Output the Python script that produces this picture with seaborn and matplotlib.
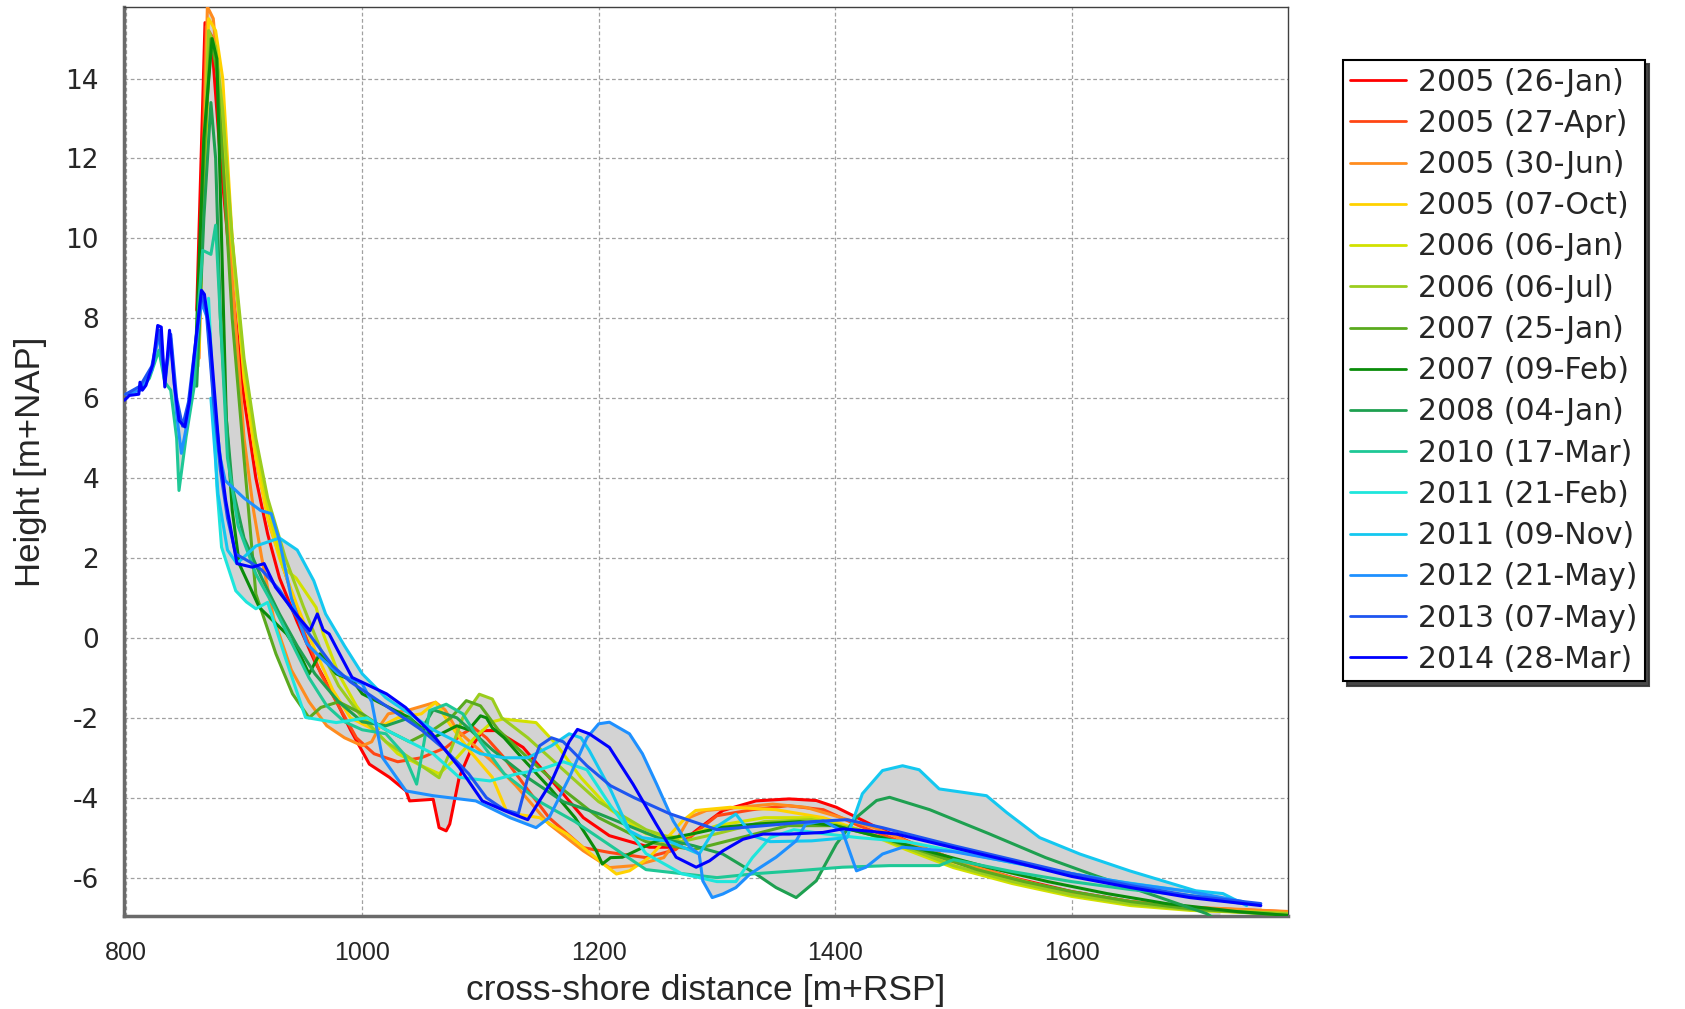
import numpy as np
import pandas as pd
import matplotlib
matplotlib.use("Agg")
import matplotlib.pyplot as plt
import seaborn as sns
from matplotlib.ticker import MultipleLocator

# ---------------- data (cross-shore distance, height) ----------------
labels = ["2005 (26-Jan)", "2005 (27-Apr)", "2005 (30-Jun)", "2005 (07-Oct)",
          "2006 (06-Jan)", "2006 (06-Jul)", "2007 (25-Jan)", "2007 (09-Feb)",
          "2008 (04-Jan)", "2010 (17-Mar)", "2011 (21-Feb)", "2011 (09-Nov)",
          "2012 (21-May)", "2013 (07-May)", "2014 (28-Mar)"]

colors = ["#ff0000", "#ff4614", "#ff8c1e", "#ffd200", "#d2e100", "#9bcd1e",
          "#5aaa1e", "#0a8c0a", "#1ea050", "#1ec896", "#1ee6dc", "#14c8f0",
          "#1e90ff", "#1e55f0", "#0000ff"]

p_2005_0126 = [(860, 8.2), (867, 15.4), (873, 14.8), (880, 12.0), (890, 8.8), (900, 6.0), (910, 4.0),
               (920, 2.6), (930, 1.5), (945, 0.4), (960, -0.6), (975, -1.4), (990, -2.3), (1006, -3.16),
               (1023, -3.49), (1037, -3.83), (1040, -4.08), (1060, -4.04), (1065, -4.75), (1071, -4.83),
               (1074, -4.66), (1082, -3.49), (1094, -2.66), (1102, -2.32), (1113, -2.32), (1136, -2.74),
               (1158, -3.49), (1187, -4.5), (1209, -4.95), (1243, -5.24), (1265, -5.24), (1282, -4.83),
               (1305, -4.32), (1333, -4.08), (1361, -4.03), (1384, -4.07), (1401, -4.24), (1418, -4.49),
               (1435, -4.74), (1470, -5.2), (1510, -5.65), (1550, -6.0), (1600, -6.35), (1650, -6.6),
               (1700, -6.75), (1785, -6.86)]

p_2005_0427 = [(861, 7.5), (868, 15.3), (874, 15.0), (882, 12.8), (892, 9.2), (902, 6.2), (912, 4.2),
               (922, 2.8), (935, 1.6), (950, 0.2), (965, -0.9), (980, -1.7), (995, -2.5), (1010, -2.9),
               (1030, -3.1), (1050, -3.0), (1071, -2.74), (1085, -2.4), (1094, -2.24), (1105, -2.5),
               (1120, -3.0), (1140, -3.8), (1158, -4.5), (1187, -5.25), (1209, -5.37), (1240, -5.5),
               (1265, -5.3), (1285, -4.8), (1300, -4.45), (1330, -4.3), (1360, -4.2), (1390, -4.3),
               (1420, -4.7), (1460, -5.15), (1500, -5.6), (1550, -6.05), (1600, -6.4), (1650, -6.62),
               (1700, -6.76), (1785, -6.88)]

p_2005_0630 = [(862, 7.0), (869, 15.8), (874, 15.5), (880, 13.5), (890, 9.0), (900, 5.0), (908, 3.2),
               (915, 2.0), (925, 0.5), (940, -0.8), (955, -1.6), (970, -2.2), (985, -2.5), (1000, -2.7),
               (1008, -2.6), (1015, -2.2), (1022, -1.9), (1040, -1.8), (1062, -1.61), (1070, -1.8),
               (1080, -2.3), (1095, -2.7), (1110, -3.1), (1130, -3.7), (1158, -4.66), (1187, -5.33),
               (1209, -5.75), (1230, -5.7), (1255, -5.5), (1265, -5.1), (1277, -4.49), (1291, -4.32),
               (1319, -4.24), (1347, -4.16), (1375, -4.24), (1404, -4.49), (1432, -4.74), (1470, -5.2),
               (1510, -5.65), (1555, -6.05), (1600, -6.38), (1650, -6.6), (1700, -6.74), (1785, -6.85)]

p_2005_1007 = [(862, 7.2), (870, 15.5), (876, 15.2), (882, 14.0), (890, 10.0), (900, 6.5), (910, 4.5),
               (920, 3.0), (930, 2.0), (945, 0.8), (960, -0.3), (975, -1.3), (990, -2.0), (1010, -2.3),
               (1030, -2.0), (1050, -1.9), (1062, -1.61), (1074, -2.16), (1091, -2.83), (1110, -3.49),
               (1122, -4.33), (1130, -4.41), (1150, -4.5), (1173, -4.91), (1204, -5.66), (1215, -5.91),
               (1226, -5.83), (1243, -5.49), (1271, -4.58), (1282, -4.32), (1311, -4.24), (1350, -4.3),
               (1390, -4.5), (1430, -4.9), (1470, -5.35), (1510, -5.8), (1555, -6.15), (1600, -6.45),
               (1650, -6.68), (1700, -6.8), (1785, -6.9)]

p_2006_0106 = [(861, 7.0), (871, 15.0), (876, 14.6), (882, 13.0), (890, 9.8), (900, 6.8), (910, 4.8),
               (920, 3.3), (933, 1.76), (944, 1.5), (961, 0.76), (967, 0.1), (980, -0.9), (995, -1.7),
               (1010, -2.3), (1030, -2.9), (1050, -3.2), (1065, -3.4), (1080, -3.0), (1095, -2.5),
               (1110, -2.1), (1119, -2.03), (1147, -2.12), (1164, -2.66), (1185, -3.5), (1210, -4.3),
               (1240, -4.9), (1270, -5.0), (1300, -4.7), (1340, -4.5), (1380, -4.5), (1420, -4.8),
               (1460, -5.3), (1500, -5.75), (1550, -6.15), (1600, -6.47), (1650, -6.7), (1700, -6.82),
               (1785, -6.92)]

p_2006_0706 = [(861, 6.8), (870, 15.2), (876, 14.8), (882, 13.2), (890, 10.0), (900, 7.0), (910, 5.0),
               (920, 3.5), (935, 2.0), (950, 0.8), (965, -0.3), (980, -1.2), (1000, -2.0), (1020, -2.6),
               (1040, -3.0), (1055, -3.3), (1065, -3.5), (1075, -2.8), (1085, -2.0), (1099, -1.41),
               (1110, -1.53), (1118, -2.0), (1140, -2.5), (1170, -3.3), (1200, -4.1), (1240, -4.8),
               (1270, -5.1), (1300, -4.9), (1340, -4.6), (1380, -4.55), (1420, -4.8), (1460, -5.25),
               (1500, -5.7), (1550, -6.1), (1600, -6.43), (1650, -6.66), (1700, -6.8), (1785, -6.9)]

p_2007_0125 = [(859, 6.4), (866, 12.0), (872, 15.0), (877, 14.2), (882, 12.0), (890, 8.0), (900, 4.5),
               (910, 1.1), (927, -0.4), (941, -1.4), (955, -2.0), (965, -1.74), (980, -1.6), (1000, -1.9),
               (1020, -2.3), (1040, -2.6), (1060, -2.3), (1075, -2.0), (1088, -1.57), (1100, -1.7),
               (1115, -2.3), (1140, -3.0), (1170, -3.8), (1200, -4.5), (1240, -5.1), (1280, -5.3),
               (1320, -5.0), (1360, -4.7), (1400, -4.7), (1440, -5.0), (1480, -5.4), (1520, -5.8),
               (1560, -6.1), (1600, -6.35), (1650, -6.6), (1700, -6.78), (1760, -6.9), (1785, -6.95)]

p_2007_0209 = [(858, 6.3), (866, 12.5), (873, 15.0), (877, 14.5), (881, 10.0), (885, 5.5), (890, 3.2),
               (896, 1.85), (913, 0.76), (936, 0.1), (947, -0.4), (955, -0.9), (964, -0.4), (978, -0.9),
               (992, -1.07), (1000, -1.4), (1020, -1.7), (1040, -2.0), (1060, -2.5), (1080, -2.2),
               (1090, -2.3), (1100, -1.95), (1105, -2.0), (1110, -2.25), (1120, -2.5), (1135, -3.0),
               (1160, -3.8), (1180, -4.5), (1198, -5.33), (1203, -5.66), (1210, -5.5), (1220, -5.49),
               (1249, -5.08), (1280, -4.9), (1305, -4.74), (1333, -4.66), (1370, -4.6), (1400, -4.7),
               (1440, -5.0), (1480, -5.35), (1530, -5.75), (1580, -6.1), (1630, -6.4), (1680, -6.65),
               (1740, -6.85), (1785, -6.95)]

p_2008_0104 = [(860, 6.3), (866, 10.5), (872, 13.4), (876, 12.0), (880, 8.0), (885, 5.5), (890, 3.8),
               (900, 2.5), (915, 1.5), (930, 0.6), (945, -0.2), (960, -0.9), (980, -1.6), (1000, -2.1),
               (1020, -2.2), (1040, -2.0), (1050, -2.3), (1060, -1.8), (1080, -2.0), (1095, -2.4),
               (1110, -2.8), (1140, -3.5), (1170, -4.1), (1200, -4.4), (1250, -5.0), (1280, -5.2),
               (1305, -5.41), (1333, -5.91), (1350, -6.25), (1367, -6.5), (1384, -6.08), (1401, -5.16),
               (1418, -4.49), (1435, -4.07), (1446, -3.99), (1480, -4.3), (1530, -4.9), (1578, -5.5),
               (1620, -5.95), (1670, -6.45), (1714, -6.9), (1725, -7.1)]

p_2010_0317 = [(812, 6.2), (820, 6.5), (828, 7.2), (833, 6.4), (838, 6.2), (843, 5.0), (845, 3.69),
               (851, 5.03), (858, 6.32), (862, 8.5), (865, 9.7), (872, 9.6), (876, 10.33), (880, 8.0),
               (886, 4.5), (895, 2.8), (910, 1.6), (925, 0.8), (940, -0.1), (955, -1.0), (970, -1.7),
               (985, -2.1), (1000, -2.3), (1020, -2.4), (1035, -2.9), (1046, -3.66), (1057, -1.82),
               (1071, -1.66), (1085, -1.9), (1100, -2.6), (1120, -3.4), (1150, -4.1), (1180, -4.6),
               (1200, -5.0), (1240, -5.8), (1300, -6.0), (1333, -5.9), (1367, -5.83), (1406, -5.74),
               (1446, -5.7), (1488, -5.7), (1500, -5.55), (1550, -5.85), (1600, -6.1), (1650, -6.3),
               (1700, -6.45), (1745, -6.65)]

p_2011_0221 = [(870, 8.5), (874, 6.0), (877, 3.8), (881, 2.27), (893, 1.18), (902, 0.9), (910, 0.73),
               (920, 0.89), (935, -0.5), (952, -1.99), (978, -2.12), (1004, -2.0), (1020, -2.3),
               (1040, -2.6), (1060, -2.9), (1082, -3.49), (1108, -3.58), (1130, -3.41), (1150, -3.3),
               (1170, -3.1), (1190, -3.3), (1210, -4.2), (1240, -5.4), (1270, -5.9), (1300, -6.1),
               (1316, -6.1), (1330, -5.5), (1345, -5.0), (1365, -4.8), (1390, -4.9), (1420, -5.0),
               (1460, -5.1), (1520, -5.45), (1580, -5.8), (1640, -6.1), (1700, -6.35), (1745, -6.62)]

p_2011_1109 = [(872, 6.0), (878, 3.6), (886, 2.2), (894, 1.86), (910, 2.3), (930, 2.5), (945, 2.2),
               (959, 1.43), (969, 0.6), (985, -0.2), (1000, -0.9), (1020, -1.5), (1040, -1.9),
               (1060, -2.3), (1080, -2.6), (1100, -2.9), (1120, -3.0), (1140, -3.0), (1160, -2.7),
               (1175, -2.4), (1185, -2.5), (1192, -2.82), (1210, -3.8), (1226, -4.83), (1237, -5.0),
               (1260, -5.1), (1285, -5.41), (1299, -4.74), (1316, -4.41), (1330, -4.95), (1345, -5.1),
               (1380, -5.08), (1410, -5.0), (1423, -3.9), (1440, -3.32), (1457, -3.2), (1471, -3.3),
               (1488, -3.78), (1528, -3.95), (1545, -4.37), (1573, -5.0), (1607, -5.41), (1649, -5.83),
               (1705, -6.33), (1728, -6.4), (1748, -6.7)]

p_2012_0521 = [(800, 6.1), (812, 6.2), (822, 6.7), (828, 7.6), (833, 6.4), (838, 7.5), (843, 5.6),
               (847, 4.62), (852, 5.4), (858, 7.0), (864, 8.4), (869, 8.0), (875, 5.8), (880, 4.5),
               (884, 3.94), (900, 3.5), (914, 3.19), (923, 3.11), (930, 2.43), (940, 1.0), (953, -0.14),
               (965, -0.5), (980, -0.9), (1000, -1.15), (1008, -1.6), (1017, -2.99), (1037, -3.83),
               (1060, -3.95), (1096, -4.08), (1125, -4.5), (1147, -4.75), (1158, -4.5), (1175, -3.5),
               (1190, -2.5), (1200, -2.15), (1209, -2.11), (1226, -2.4), (1237, -2.9), (1249, -3.66),
               (1263, -4.58), (1277, -5.24), (1285, -5.41), (1288, -6.08), (1296, -6.5), (1305, -6.41),
               (1316, -6.25), (1328, -5.91), (1350, -5.49), (1367, -5.08), (1375, -4.66), (1390, -4.58),
               (1406, -4.83), (1418, -5.83), (1426, -5.74), (1440, -5.41), (1457, -5.24), (1500, -5.35),
               (1550, -5.62), (1600, -5.9), (1650, -6.15), (1700, -6.35), (1745, -6.6)]

p_2013_0507 = [(800, 6.1), (812, 6.3), (822, 6.8), (828, 7.7), (833, 6.5), (838, 7.6), (843, 6.0),
               (848, 5.3), (853, 5.9), (859, 7.4), (864, 8.6), (868, 8.2), (874, 6.0), (880, 4.2),
               (886, 3.0), (893, 2.1), (905, 1.9), (915, 1.7), (930, 1.2), (945, 0.5), (960, -0.1),
               (975, -0.7), (990, -1.1), (1010, -1.5), (1030, -1.9), (1050, -2.3), (1070, -2.8),
               (1090, -3.4), (1105, -4.0), (1120, -4.3), (1132, -4.4), (1140, -3.5), (1150, -2.7),
               (1160, -2.5), (1170, -2.6), (1190, -3.2), (1210, -3.7), (1230, -4.0), (1260, -4.4),
               (1300, -4.8), (1340, -4.7), (1380, -4.6), (1410, -4.55), (1440, -4.75), (1500, -5.2),
               (1550, -5.55), (1600, -5.9), (1650, -6.2), (1700, -6.45), (1760, -6.65)]

p_2014_0328 = [(799, 5.95), (803, 6.07), (811, 6.1), (812, 6.4), (814, 6.2), (817, 6.32), (823, 6.86),
               (827, 7.82), (830, 7.78), (833, 6.28), (837, 7.7), (841, 6.36), (845, 5.44), (850, 5.28),
               (854, 5.95), (859.5, 7.53), (864, 8.7), (866.5, 8.6), (871, 7.62), (879, 4.7),
               (884.5, 3.44), (894, 1.86), (907, 1.77), (917, 1.86), (926.6, 1.27), (946, 0.52),
               (955.8, 0.18), (962, 0.6), (967, 0.2), (972, 0.1), (978, -0.24), (991.4, -0.99),
               (1020.5, -1.4), (1036.6, -1.74), (1059, -2.4), (1082, -3.24), (1101.5, -4.08),
               (1120.8, -4.33), (1140, -4.55), (1160, -3.6), (1175, -2.6), (1182, -2.29), (1192, -2.4),
               (1209, -2.74), (1229, -3.66), (1248.6, -4.66), (1265.5, -5.49), (1282.4, -5.74),
               (1293.7, -5.58), (1305, -5.33), (1322, -5.04), (1339, -4.91), (1361, -4.91),
               (1389.6, -4.87), (1406.5, -4.78), (1426, -4.83), (1452, -4.91), (1500, -5.25),
               (1550, -5.6), (1600, -5.97), (1650, -6.25), (1700, -6.5), (1760, -6.7)]

profiles = [p_2005_0126, p_2005_0427, p_2005_0630, p_2005_1007, p_2006_0106, p_2006_0706,
            p_2007_0125, p_2007_0209, p_2008_0104, p_2010_0317, p_2011_0221, p_2011_1109,
            p_2012_0521, p_2013_0507, p_2014_0328]

x_ticks = [800, 1000, 1200, 1400, 1600]
y_ticks = [-6, -4, -2, 0, 2, 4, 6, 8, 10, 12, 14]

# ---------------- long-form table ----------------
rows = []
for lab, pts in zip(labels, profiles):
    for i, (x, y) in enumerate(pts):
        rows.append((lab, i, x, y))
df = pd.DataFrame(rows, columns=["survey", "order", "x", "y"])

# ---------------- figure ----------------
sns.set_style("white")
plt.rcParams["font.family"] = ["DejaVu Sans"]
plt.rcParams["axes.unicode_minus"] = False

fig = plt.figure(figsize=(16.85, 10.09), dpi=100)
ax = fig.add_axes([0.0736, 0.0926, 0.6908, 0.9])

# envelope (min / max of all profiles)
grid = np.arange(799, 1785.01, 0.5)
stack = []
for pts in profiles:
    xs = np.array([p[0] for p in pts], float)
    ys = np.array([p[1] for p in pts], float)
    yi = np.interp(grid, xs, ys)
    yi[(grid < xs[0]) | (grid > xs[-1])] = np.nan
    stack.append(yi)
stack = np.array(stack)
lo = np.nanmin(stack, axis=0)
hi = np.nanmax(stack, axis=0)
ax.fill_between(grid, lo, hi, color="#d3d3d3", linewidth=0, zorder=1)

sns.lineplot(data=df, x="x", y="y", hue="survey", hue_order=labels, palette=colors,
             sort=False, estimator=None, linewidth=2.2, ax=ax, zorder=3)

ax.set_xlim(798.5, 1783)
ax.set_ylim(-6.95, 15.78)
ax.set_xticks(x_ticks, labels=[str(v) for v in x_ticks], fontsize=18,
              fontfamily=["Liberation Sans", "DejaVu Sans"])
ax.set_yticks(y_ticks)
ax.xaxis.set_minor_locator(MultipleLocator(50))
ax.yaxis.set_minor_locator(MultipleLocator(0.5))
ax.set_axisbelow(True)
ax.grid(True, which="major", linestyle=(0, (3, 2)), color="#a0a0a0", linewidth=0.9)

ax.tick_params(axis="both", which="major", length=8, width=1, color="#8a8a8a", direction="out")
ax.tick_params(axis="both", which="minor", length=5, width=1, color="#8a8a8a", direction="out")
ax.tick_params(axis="y", which="major", labelsize=19, pad=10)
ax.tick_params(axis="x", which="major", pad=10)

for side in ["left", "bottom"]:
    ax.spines[side].set_color("#6a6a6a")
    ax.spines[side].set_linewidth(2.5)
for side in ["top", "right"]:
    ax.spines[side].set_color("#404040")
    ax.spines[side].set_linewidth(1.0)

ax.set_xlabel("cross-shore distance [m+RSP]", fontsize=25.5,
              family=["Liberation Sans", "DejaVu Sans"])
ax.set_ylabel("Height [m+NAP]", fontsize=25,
              family=["Liberation Sans", "DejaVu Sans"])
ax.xaxis.set_label_coords(0.5, -0.064)
ax.yaxis.set_label_coords(-0.066, 0.5)

handles, labs = ax.get_legend_handles_labels()
leg = ax.legend(handles, labs, loc="upper left", bbox_to_anchor=(0.797, 0.9405),
                bbox_transform=fig.transFigure, frameon=True, fancybox=False,
                edgecolor="black", framealpha=1, fontsize=21.5,
                shadow={"ox": 3, "oy": -3, "facecolor": "#333333", "edgecolor": "#333333", "alpha": 0.9},
                handlelength=1.85, handletextpad=0.42, labelspacing=0.41,
                borderpad=0.25, borderaxespad=0)
leg.get_frame().set_linewidth(1.5)
for h in leg.get_lines():
    h.set_linewidth(2.0)

fig.savefig("out.png", dpi=100)
